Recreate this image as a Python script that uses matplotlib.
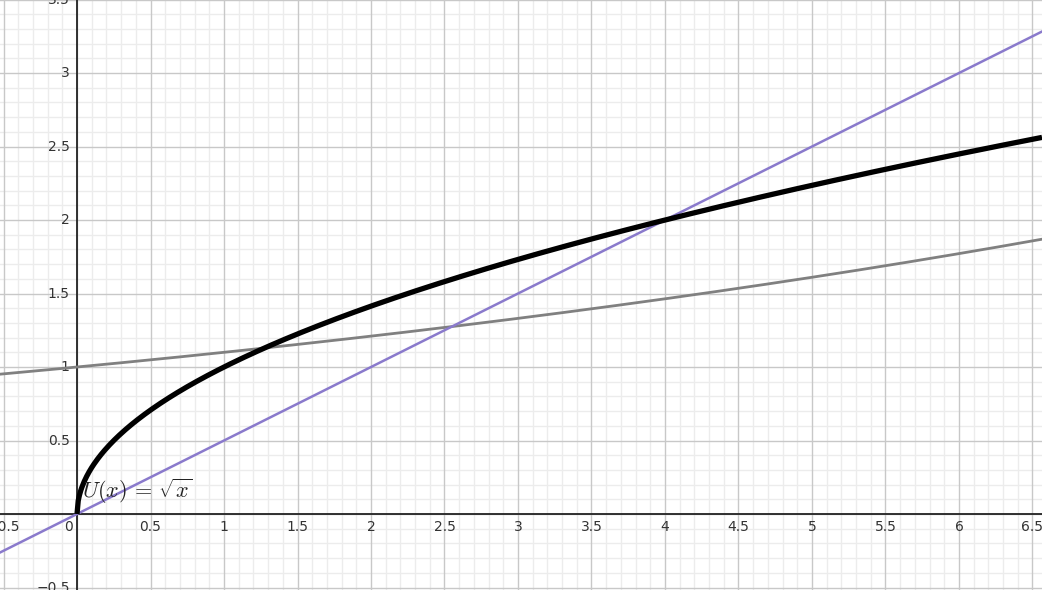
import numpy as np
import matplotlib.pyplot as plt

# view window (graph units)
x_min, x_max = -0.524, 6.565
y_min, y_max = -0.517, 3.497

# curves
x_sqrt = np.linspace(0, x_max, 800)
x_all = np.linspace(x_min, x_max, 400)
growth_base = 1.1     # gray curve: 1.1^x
line_slope = 0.5      # purple line: x/2

x_ticks = [-0.5, 0.5, 1, 1.5, 2, 2.5, 3, 3.5, 4, 4.5, 5, 5.5, 6, 6.5]
x_tick_labels = ["−0.5", "0.5", "1", "1.5", "2", "2.5", "3", "3.5", "4", "4.5", "5", "5.5", "6", "6.5"]
y_ticks = [-0.5, 0.5, 1, 1.5, 2, 2.5, 3, 3.5]
y_tick_labels = ["−0.5", "0.5", "1", "1.5", "2", "2.5", "3", "3.5"]

plt.rcParams['mathtext.fontset'] = 'cm'

fig = plt.figure(figsize=(10.42, 5.9), dpi=100)
ax = fig.add_axes([0, 0, 1, 1])
ax.set_xlim(x_min, x_max)
ax.set_ylim(y_min, y_max)
ax.axis("off")

#### grid ####
for v in np.arange(-0.5, 6.61, 0.1):
    major = abs(v * 2 - round(v * 2)) < 1e-6
    ax.axvline(v, color="#c8c8c8" if major else "#ececec", lw=1, zorder=0 if not major else 1)
for v in np.arange(-0.5, 3.51, 0.1):
    major = abs(v * 2 - round(v * 2)) < 1e-6
    ax.axhline(v, color="#c8c8c8" if major else "#ececec", lw=1, zorder=0 if not major else 1)

ax.axhline(0, color="#222222", lw=1.3, zorder=2)
ax.axvline(0, color="#222222", lw=1.3, zorder=2)

# tick labels next to the axes
for v, s in zip(x_ticks, x_tick_labels):
    ax.text(v, -0.04, s, ha="center", va="top", fontsize=10, color="#333333", zorder=3)
ax.text(-0.03, -0.04, "0", ha="right", va="top", fontsize=10, color="#333333", zorder=3)
for v, s in zip(y_ticks, y_tick_labels):
    ax.text(-0.05, v, s, ha="right", va="center", fontsize=10, color="#333333", zorder=3)

#### curves ####
ax.plot(x_all, growth_base ** x_all, color="#808080", lw=2, zorder=4)
ax.plot(x_all, line_slope * x_all, color="#8a7acc", lw=1.8, zorder=4)
ax.plot(x_sqrt, np.sqrt(x_sqrt), color="black", lw=3.8, zorder=5,
        solid_capstyle="butt")

ax.text(0.035, 0.11, r"$U(x)\,=\,\sqrt{x}$", fontsize=16, color="#222222", zorder=6)

plt.savefig("out.png", dpi=100)
